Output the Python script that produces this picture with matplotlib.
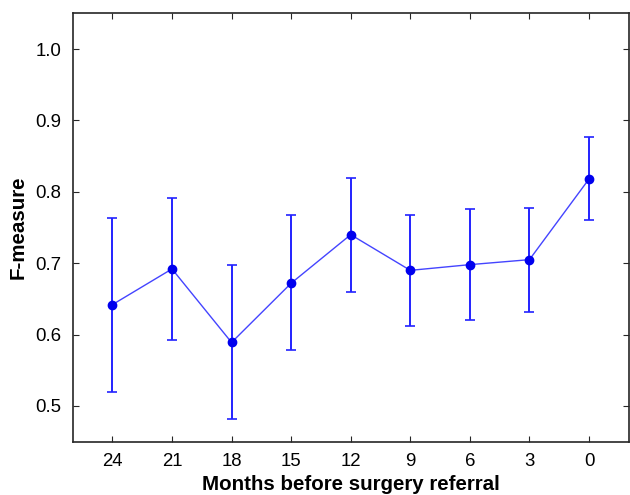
import matplotlib
matplotlib.use("Agg")
import matplotlib.pyplot as plt
import numpy as np

months = [24, 21, 18, 15, 12, 9, 6, 3, 0]
fmeasure = [0.642, 0.692, 0.589, 0.672, 0.740, 0.690, 0.698, 0.705, 0.818]
upper = [0.764, 0.792, 0.698, 0.767, 0.820, 0.768, 0.776, 0.778, 0.877]
lower = [0.520, 0.592, 0.482, 0.578, 0.660, 0.612, 0.620, 0.632, 0.760]
yticks = [0.5, 0.6, 0.7, 0.8, 0.9, 1.0]

plt.rcParams['font.family'] = ['Liberation Sans', 'DejaVu Sans']

fig = plt.figure(figsize=(6.3, 4.95), dpi=100)
ax = fig.add_axes([0.1154, 0.1077, 0.998 - 0.1154, 0.973 - 0.1077])

y = np.array(fmeasure)
yerr = np.vstack([y - np.array(lower), np.array(upper) - y])
ax.plot(months, fmeasure, color='#4444ff', lw=1.0, zorder=2)
ax.errorbar(months, fmeasure, yerr=yerr, fmt='none', ecolor='#2222ff',
            elinewidth=1.4, capsize=3.5, capthick=1.2, zorder=3)
ax.plot(months, fmeasure, 'o', color='#0000ee', ms=6, zorder=4)

ax.set_xlim(26, -2)
ax.set_ylim(0.45, 1.05)
ax.set_xticks(months)
ax.set_xticklabels([str(m) for m in months])
ax.set_yticks(yticks)
ax.set_yticklabels([f"{v:.1f}" for v in yticks])
ax.tick_params(direction='in', length=4, width=0.8, top=True, right=True,
               labelsize=13.4, colors='#262626', labelcolor='black', pad=8)
for s in ax.spines.values():
    s.set_color('#262626')
    s.set_linewidth(1.2)

ax.set_xlabel('Months before surgery referral', fontsize=14.8, fontweight='bold', labelpad=3.5)
ax.set_ylabel('F-measure', fontsize=14.8, fontweight='bold', labelpad=6)

fig.savefig('out.png', dpi=100)
